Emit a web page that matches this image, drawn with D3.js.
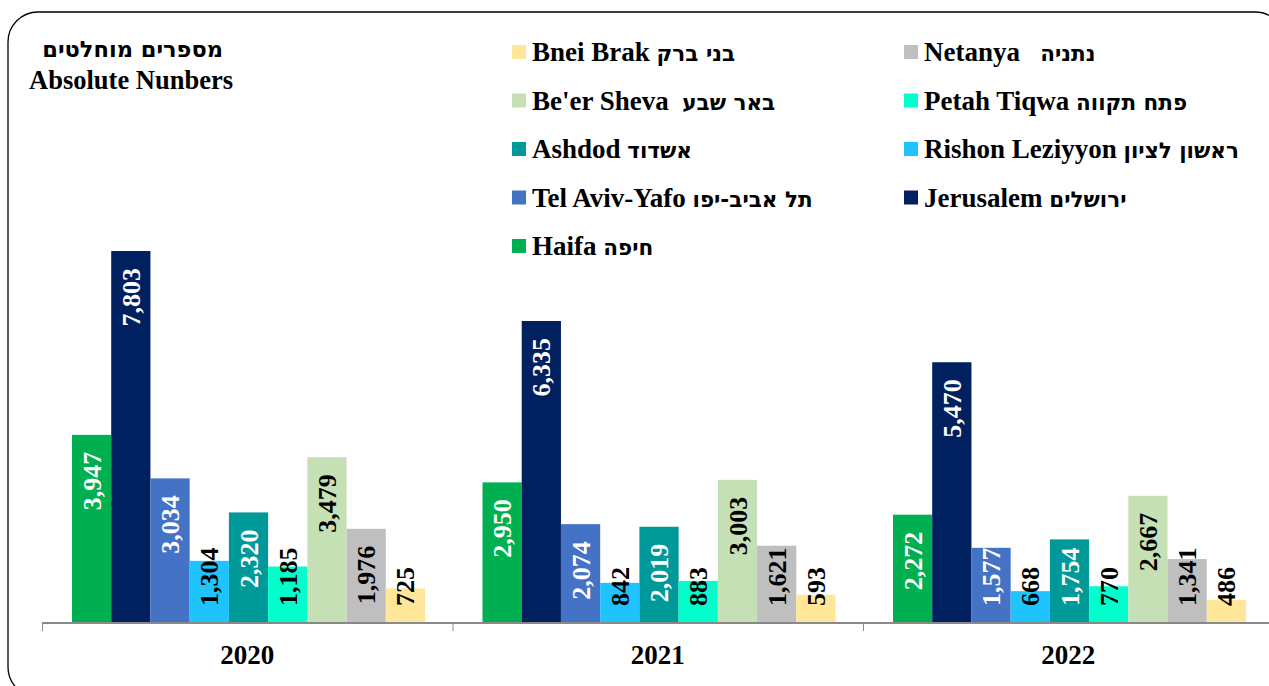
<!DOCTYPE html>
<html>
<head>
<meta charset="utf-8">
<script src="https://cdn.jsdelivr.net/npm/d3@7"></script>
<style>
  body { margin: 0; background: #fff; }
  svg text { white-space: pre; }
</style>
</head>
<body>
<svg id="chart" width="1269" height="686"></svg>
<script>
// data
var years = ["2020", "2021", "2022"];
var citiesEn = ["Haifa", "Jerusalem", "Tel Aviv-Yafo", "Rishon Leziyyon", "Ashdod",
                "Petah Tiqwa", "Be'er Sheva", "Netanya", "Bnei Brak"];
var citiesHe = ["חיפה", "ירושלים", "תל אביב-יפו", "ראשון לציון", "אשדוד",
                "פתח תקווה", "באר שבע", "נתניה", "בני ברק"];
var v2020 = [3947, 7803, 3034, 1304, 2320, 1185, 3479, 1976, 725];
var v2021 = [2950, 6335, 2074, 842, 2019, 883, 3003, 1621, 593];
var v2022 = [2272, 5470, 1577, 668, 1754, 770, 2667, 1341, 486];
var values = [v2020, v2021, v2022];

var colors = ["#00b050", "#002060", "#4472c4", "#1fc4ff", "#009999",
              "#00ffcc", "#c5e0b4", "#bfbfbf", "#ffe699"];
var labelColors = ["#fff", "#fff", "#fff", "#000", "#fff", "#000", "#000", "#000", "#000"];
// extra gaps between english and hebrew in the legend
var legendGaps = [" ", " ", " ", " ", " ", " ", "  ", "   ", " "];

var serif = "'Liberation Serif', 'Times New Roman', serif";
var heb = "'DejaVu Sans', Arial, sans-serif";

var svg = d3.select("#chart");

// rounded frame
svg.append("rect")
    .attr("x", 8).attr("y", 12)
    .attr("width", 1277).attr("height", 685)
    .attr("rx", 30).attr("ry", 30)
    .attr("fill", "none")
    .attr("stroke", "#000")
    .attr("stroke-width", 1.3);

// title
var title = svg.append("g").attr("font-weight", "bold").attr("text-anchor", "end");
title.append("text")
    .attr("x", 223).attr("y", 57)
    .attr("font-family", heb).attr("font-size", 22.5)
    .text("מספרים מוחלטים");
title.append("text")
    .attr("x", 233).attr("y", 89)
    .attr("font-family", serif).attr("font-size", 26.5)
    .text("Absolute Nunbers");

// scales
var baseline = 623;
var x0 = d3.scaleBand().domain(years).range([42, 1273.5]).padding(0);
var x1 = d3.scaleBand().domain(d3.range(citiesEn.length)).range([30, 383]).padding(0);
var y = d3.scaleLinear().domain([0, 8000]).range([baseline, baseline - 8000 * 0.04767]);
var fmt = d3.format(",");

// bars
var groups = svg.selectAll(".year")
    .data(years)
    .enter().append("g")
    .attr("class", "year")
    .attr("transform", function(d) { return "translate(" + x0(d) + ",0)"; });

groups.selectAll("rect")
    .data(function(d, i) { return values[i]; })
    .enter().append("rect")
    .attr("x", function(d, i) { return x1(i); })
    .attr("y", function(d) { return y(d); })
    .attr("width", x1.bandwidth())
    .attr("height", function(d) { return baseline - y(d); })
    .attr("fill", function(d, i) { return colors[i]; });

// value labels, rotated, inside end (pushed up when the bar is too short)
var pad = 17;
groups.selectAll(".lbl")
    .data(function(d, i) { return values[i]; })
    .enter().append("text")
    .attr("class", "lbl")
    .attr("font-family", serif)
    .attr("font-weight", "bold")
    .attr("font-size", 26)
    .attr("text-anchor", "end")
    .attr("dy", "0.35em")
    .attr("fill", function(d, i) { return labelColors[i]; })
    .text(function(d) { return fmt(d); })
    .each(function(d, i) {
        var len = this.getComputedTextLength();
        var top = Math.min(y(d) + pad, baseline - pad - len);
        var cx = x1(i) + x1.bandwidth() / 2;
        d3.select(this).attr("transform", "translate(" + cx + "," + top + ") rotate(-90)");
    });

// axis
var axis = svg.append("g").attr("stroke", "#898989");
axis.append("line")
    .attr("x1", 42).attr("x2", 1273.5)
    .attr("y1", baseline).attr("y2", baseline)
    .attr("stroke-width", 2.2);
axis.selectAll(".tick")
    .data(years)
    .enter().append("line")
    .attr("x1", function(d) { return x0(d) + 0.5; })
    .attr("x2", function(d) { return x0(d) + 0.5; })
    .attr("y1", baseline).attr("y2", baseline + 8)
    .attr("stroke-width", 1);

svg.selectAll(".yearLbl")
    .data(years)
    .enter().append("text")
    .attr("class", "yearLbl")
    .attr("x", function(d) { return x0(d) + x0.bandwidth() / 2; })
    .attr("y", 664)
    .attr("text-anchor", "middle")
    .attr("font-family", serif)
    .attr("font-weight", "bold")
    .attr("font-size", 27)
    .text(function(d) { return d; });

// legend: reversed series order, two columns, row by row
var order = d3.range(citiesEn.length).reverse();
var legend = svg.selectAll(".leg")
    .data(order)
    .enter().append("g")
    .attr("class", "leg")
    .attr("transform", function(d, k) {
        var col = k % 2, row = Math.floor(k / 2);
        return "translate(" + (col === 0 ? 512 : 904) + "," + (52 + row * 48.5) + ")";
    });

legend.append("rect")
    .attr("x", 0).attr("y", -7)
    .attr("width", 14).attr("height", 14)
    .attr("fill", function(d) { return colors[d]; });

var lt = legend.append("text")
    .attr("x", 20).attr("y", 9)
    .attr("font-weight", "bold")
    .attr("font-size", 27);
lt.append("tspan")
    .attr("font-family", serif)
    .text(function(d) { return citiesEn[d] + legendGaps[d]; });
lt.append("tspan")
    .attr("font-family", heb)
    .attr("font-size", 21.5)
    .text(function(d) { return citiesHe[d]; });
</script>
</body>
</html>
